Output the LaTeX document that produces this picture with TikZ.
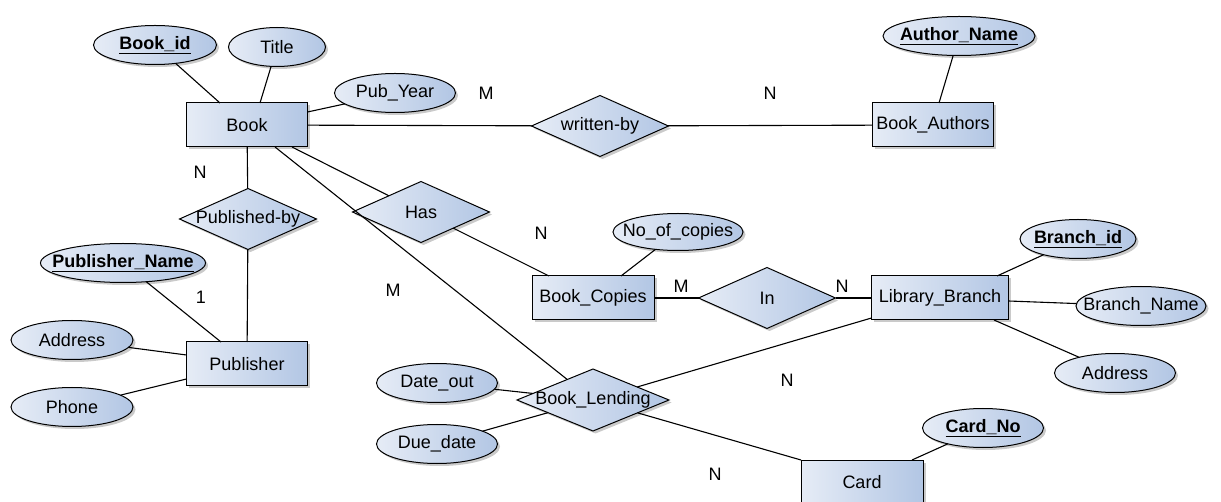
\documentclass[tikz,border=0pt]{standalone}
\usepackage{fontspec}
\setmainfont{Liberation Sans}
\usetikzlibrary{shapes.geometric,shadows,calc}
\definecolor{cl}{RGB}{230,236,246}
\definecolor{cr}{RGB}{178,198,228}
\tikzset{
  base/.style={draw=black, line width=1pt, left color=cl, right color=cr,
    inner sep=0pt, outer sep=0pt, font=\fontsize{18}{20}\selectfont,
    drop shadow={shadow xshift=2.5pt, shadow yshift=-2.5pt, opacity=0.35, fill=black!60}},
  ent/.style={base, rectangle, minimum width=121pt, minimum height=44pt},
  rel/.style={base, diamond, minimum width=137pt, minimum height=61pt},
  attr/.style={base, ellipse, minimum width=121pt, minimum height=39pt},
  card/.style={font=\fontsize{18}{20}\selectfont},
  conn/.style={line width=1.1pt},
}
\newcommand{\tx}[1]{\makebox[0pt]{#1}}
\newcommand{\ky}[1]{\makebox[0pt]{\textbf{\underline{#1}}}}
\begin{document}
\begin{tikzpicture}[x=1pt,y=-1pt]
\useasboundingbox (0,0) rectangle (1221,502);
\clip (0,0) rectangle (1221,502);
% entities
\node[ent] (book) at (247,125) {\tx{Book}};
\node[ent] (ba) at (933,125) {\tx{Book\_Authors}};
\node[ent] (pub) at (247,364) {\tx{Publisher}};
\node[ent, minimum width=122pt] (bc) at (593,298) {\tx{Book\_Copies}};
\node[ent, minimum width=137pt] (lb) at (940,298) {\tx{Library\_Branch}};
\node[ent, minimum width=122pt, anchor=north] (card) at (862,460) {\tx{Card}};
% relationships
\node[rel] (wb) at (600,126) {\tx{written-by}};
\node[rel] (pb) at (248,219) {\tx{Published-by}};
\node[rel] (has) at (421,212) {\tx{Has}};
\node[rel] (in) at (767,298) {\tx{In}};
\node[rel, minimum width=152pt, minimum height=62pt] (bl) at (593,400) {\tx{Book\_Lending}};
% attributes
\node[attr, minimum width=123pt] (bookid) at (155,45) {\ky{Book\_id}};
\node[attr, minimum width=97pt] (title) at (277,47) {\tx{Title}};
\node[attr] (pubyear) at (395,93) {\tx{Pub\_Year}};
\node[attr, minimum width=152pt] (an) at (959,36) {\ky{Author\_Name}};
\node[attr, minimum width=165pt] (pn) at (123,263) {\ky{Publisher\_Name}};
\node[attr, minimum width=122pt] (addr) at (72,340) {\tx{Address}};
\node[attr, minimum width=122pt] (phone) at (72,407) {\tx{Phone}};
\node[attr, minimum width=130pt, minimum height=37pt] (noc) at (678,232) {\tx{No\_of\_copies}};
\node[attr, minimum width=116pt] (bid) at (1078,239) {\ky{Branch\_id}};
\node[attr, minimum width=130pt] (bn) at (1141,306) {\tx{Branch\_Name}};
\node[attr] (addr2) at (1115,373) {\tx{Address}};
\node[attr] (do) at (437,383) {\tx{Date\_out}};
\node[attr] (dd) at (437,444) {\tx{Due\_date}};
\node[attr] (cn) at (983,428) {\ky{Card\_No}};
% connectors
\draw[conn] (bookid) -- ($(book.north)+(-27,0)$);
\draw[conn] (title) -- ($(book.north)+(13,0)$);
\draw[conn] (pubyear) -- ($(book.east)+(0,-13)$);
\draw[conn] (book) -- (wb) -- (ba);
\draw[conn] (an) -- ($(ba.north)+(6,0)$);
\draw[conn] (book) -- (pb) -- (pub);
\draw[conn] (pn) -- ($(pub.north)+(-26,0)$);
\draw[conn] (addr) -- ($(pub.west)+(0,-9)$);
\draw[conn] (phone) -- ($(pub.west)+(0,15)$);
\draw[conn] ($(book.south)+(45,0)$) -- (has);
\draw[conn] (has) -- ($(bc.north)+(-44,0)$);
\draw[conn] (noc) -- ($(bc.north)+(28,0)$);
\draw[conn] (bc) -- (in) -- (lb);
\draw[conn] (bid) -- ($(lb.north)+(57,0)$);
\draw[conn] (bn) -- ($(lb.east)+(0,3)$);
\draw[conn] (addr2) -- ($(lb.south)+(54,0)$);
\draw[conn] ($(book.south)+(28,0)$) -- (bl);
\draw[conn] ($(lb.west)+(0,20)$) -- (bl);
\draw[conn] (do) -- (bl);
\draw[conn] (dd) -- (bl);
\draw[conn] (bl) -- (card.north west);
\draw[conn] (cn) -- ($(card.north)+(50,0)$);
% cardinalities
\node[card] (c1) at (486,93) {M};
\node[card] (c2) at (770,93) {N};
\node[card] (c3) at (200,172) {N};
\node[card] (c4) at (541,233) {N};
\node[card] (c5) at (201,297) {1};
\node[card] (c6) at (393,290) {M};
\node[card] (c7) at (681,286) {M};
\node[card] (c8) at (842,286) {N};
\node[card] (c9) at (787,380) {N};
\node[card] (c10) at (715,474) {N};
\end{tikzpicture}
\end{document}
